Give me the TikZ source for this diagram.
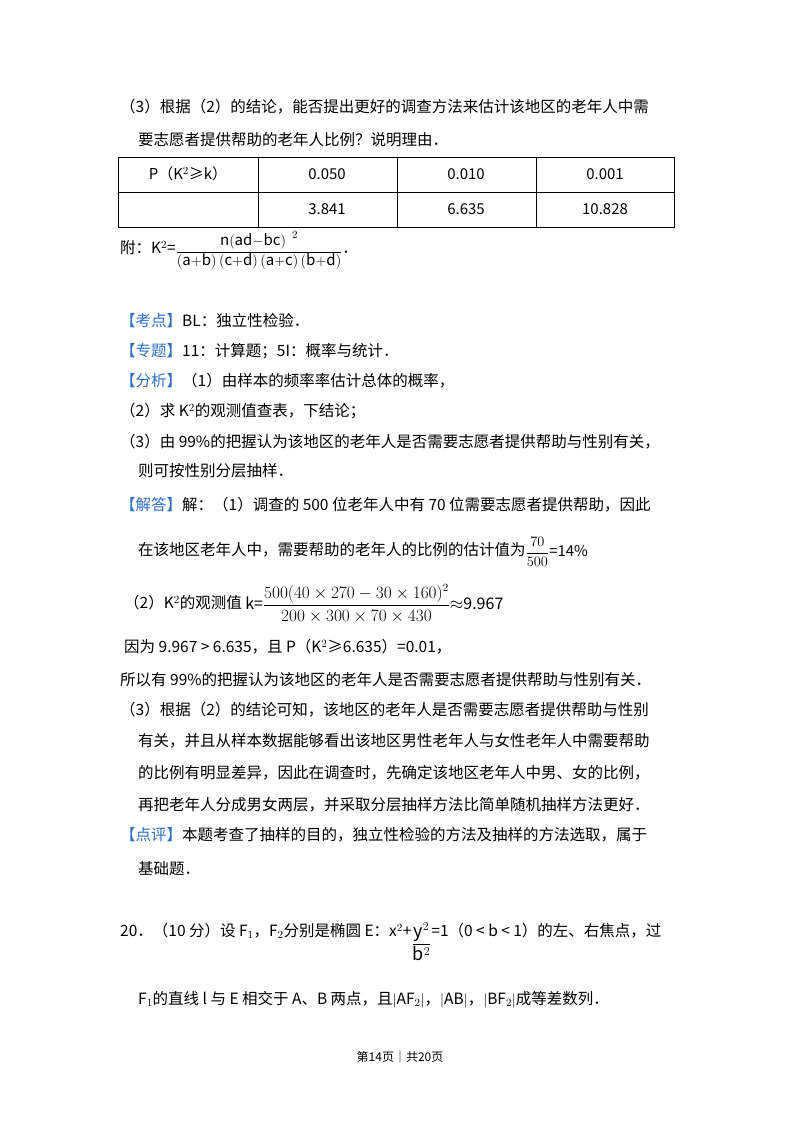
\documentclass[tikz,border=0pt]{standalone}
\usepackage{fontspec}
\setmainfont{Noto Sans CJK SC}
\newfontfamily\serf{Liberation Serif}
\definecolor{kblue}{HTML}{2E6FC9}
\begin{document}
\begin{tikzpicture}[x=1pt,y=-1pt,
  tx/.style={anchor=west,inner sep=0pt,font=\fontsize{15.5}{18}\selectfont},
  cell/.style={anchor=center,inner sep=0pt,font=\fontsize{15}{18}\selectfont},
  lab/.style={text=kblue}]
\useasboundingbox[fill=white] (0,0) rectangle (800,1132);
\node[tx] (l1) at (120,107) {（3）根据（2）的结论，能否提出更好的调查方法来估计该地区的老年人中需};
\node[tx] (l2) at (138,140) {要志愿者提供帮助的老年人比例？说明理由．};
% table
\draw[line width=0.8pt] (118,157) rectangle (674,227);
\draw[line width=0.8pt] (118,192) -- (674,192);
\foreach \xx in {258,397,536} \draw[line width=0.8pt] (\xx,157) -- (\xx,227);
\node[cell] (c1) at (188,174) {P（K$^2$≥k）};
\node[cell] (c2) at (327,174) {0.050};
\node[cell] (c3) at (466,174) {0.010};
\node[cell] (c4) at (605,174) {0.001};
\node[cell] (c6) at (327,209) {3.841};
\node[cell] (c7) at (466,209) {6.635};
\node[cell] (c8) at (605,209) {10.828};
\node[tx] (fu) at (120,250) {附：K$^2$=\raisebox{-2pt}{\fontsize{15}{16}\selectfont$\displaystyle\frac{\mathrm{n(ad{-}bc)}^{\;\;2}}{\mathrm{(a{+}b)\,(c{+}d)\,(a{+}c)\,(b{+}d)}}$}．};
\node[tx] (kd) at (120,321) {\textcolor{kblue}{【考点】}BL：独立性检验．};
\node[tx] (zt) at (120,351) {\textcolor{kblue}{【专题】}11：计算题；5I：概率与统计．};
\node[tx] (fx) at (120,381) {\textcolor{kblue}{【分析】}（1）由样本的频率率估计总体的概率，};
\node[tx] (f2) at (120,411) {（2）求 K$^2$的观测值查表，下结论；};
\node[tx] (f3) at (120,442) {（3）由 99\%的把握认为该地区的老年人是否需要志愿者提供帮助与性别有关，};
\node[tx] (f4) at (138,471) {则可按性别分层抽样．};
\node[tx] (jd) at (120,505) {\textcolor{kblue}{【解答】}解：（1）调查的 500 位老年人中有 70 位需要志愿者提供帮助，因此};
\node[tx] (j2) at (138,552) {在该地区老年人中，需要帮助的老年人的比例的估计值为\raisebox{-1pt}{\fontsize{15}{16}\selectfont$\displaystyle\frac{70}{500}$=14\%}};
\node[tx] (j3) at (124,604) {（2）K$^2$的观测值 \raisebox{-1pt}{\fontsize{16}{16}\selectfont k=$\displaystyle\frac{500(40\times270-30\times160)^2}{200\times300\times70\times430}$$\approx$9.967}};
\node[tx] (j4) at (124,647) {因为 9.967 > 6.635，且 P（K$^2$≥6.635）=0.01，};
\node[tx] (j5) at (120,680) {所以有 99\%的把握认为该地区的老年人是否需要志愿者提供帮助与性别有关．};
\node[tx] (j6) at (120,710) {（3）根据（2）的结论可知，该地区的老年人是否需要志愿者提供帮助与性别};
\node[tx] (j7) at (138,741) {有关，并且从样本数据能够看出该地区男性老年人与女性老年人中需要帮助};
\node[tx] (j8) at (138,773) {的比例有明显差异，因此在调查时，先确定该地区老年人中男、女的比例，};
\node[tx] (j9) at (138,805) {再把老年人分成男女两层，并采取分层抽样方法比简单随机抽样方法更好．};
\node[tx] (dp) at (120,835) {\textcolor{kblue}{【点评】}本题考查了抽样的目的，独立性检验的方法及抽样的方法选取，属于};
\node[tx] (d2) at (138,869) {基础题．};
\node[tx] (q1) at (120,942) {20．（10 分）设 F$_1$，F$_2$分别是椭圆 E：x$^2$+\raisebox{-12pt}{\fontsize{18}{18}\selectfont$\displaystyle\frac{\mathrm{y}^2}{\mathrm{b}^2}$}=1（0 < b < 1）的左、右焦点，过};
\node[tx] (q2) at (138,1000) {F$_1$的直线 l 与 E 相交于 A、B 两点，且$|$AF$_2|$，$|$AB$|$，$|$BF$_2|$成等差数列．};
\node[anchor=center,inner sep=0pt,font=\fontsize{12}{14}\selectfont] (ft) at (400,1057) {第14页｜共20页};
\end{tikzpicture}
\end{document}
